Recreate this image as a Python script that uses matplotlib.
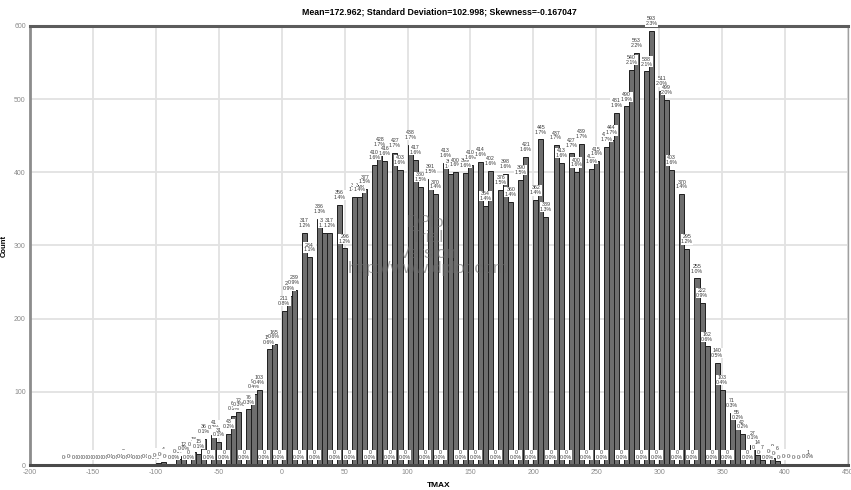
"""
Histogram of TMAX (DPlot style) with count / percent labels on every bin
"""

import matplotlib
matplotlib.use("Agg")
import matplotlib.pyplot as plt

# Histogram bins: first edge and width (TMAX units)
bin_start = -172
bin_width = 4

# Count per bin (empty bins are 0)
counts = [
    0, 1, 0, 0, 0, 0, 0, 0, 0, 1,
    0, 2, 0, 1, 0, 0, 1, 0, 3, 4,
    1, 0, 8, 12, 0, 18, 15, 36, 0, 41,
    31, 0, 43, 67, 72, 0, 76, 97, 103, 0,
    158, 165, 0, 211, 231, 239, 0, 317, 284, 0,
    336, 317, 317, 0, 356, 296, 0, 366, 366, 377,
    0, 410, 428, 416, 0, 427, 403, 0, 438, 417,
    380, 0, 391, 370, 0, 413, 398, 400, 0, 399,
    410, 0, 414, 354, 402, 0, 376, 398, 360, 0,
    390, 421, 0, 362, 445, 339, 0, 437, 413, 0,
    427, 400, 439, 0, 405, 415, 0, 435, 444, 481,
    0, 490, 540, 563, 0, 538, 593, 0, 511, 499,
    403, 0, 370, 295, 0, 255, 222, 162, 0, 140,
    103, 0, 71, 55, 42, 0, 27, 14, 7, 0,
    9, 6, 0, 2, 1, 0, 0, 1,
]

x_ticks = list(range(-200, 451, 50))
y_ticks = list(range(0, 601, 100))

title = "Mean=172.962; Standard Deviation=102.998; Skewness=-0.167047"
x_label = "TMAX"
y_label = "Count"
watermark = "DPlot\nTrial\nVersion\nhttp://www.dplot.com"

plt.rcParams["font.family"] = ["Liberation Sans", "DejaVu Sans"]
plt.rcParams["axes.unicode_minus"] = False

fig = plt.figure(figsize=(8.51, 4.90), dpi=100)
ax = fig.add_axes([30 / 851, 25 / 490, 818 / 851, 439 / 490])

lefts = [bin_start + i * bin_width for i in range(len(counts))]
total = sum(counts)

# Bars
ax.bar(lefts, counts, width=bin_width, align="edge",
       color="#6e6e6e", edgecolor="#1e1e1e", linewidth=0.7, zorder=2)

# Count and percent label above each bin
for left, c in zip(lefts, counts):
    pct = 100.0 * c / total
    ax.annotate(f"{c}\n{pct:.1f}%", xy=(left + bin_width / 2, c),
                xytext=(0, 3.5), textcoords="offset points",
                ha="center", va="bottom", fontsize=3.8, color="#3a3a3a",
                linespacing=0.95, zorder=4,
                bbox=dict(boxstyle="square,pad=0.05", facecolor="white",
                          edgecolor="none"))

# Watermark
ax.text(116, 300, watermark, ha="center", va="center", fontsize=12.5,
        color="#6a6a6a", alpha=0.6, linespacing=1.05, zorder=5)

ax.set_xlim(-200, 450)
ax.set_ylim(0, 600)
ax.set_xticks(x_ticks)
ax.set_yticks(y_ticks)
ax.tick_params(axis="both", length=0, labelsize=5, labelcolor="#8a8a8a", pad=3)
ax.grid(True, color="#e2e2e2", linewidth=1.3, zorder=0)
ax.set_axisbelow(True)

for side, col, lw in [("left", "#8c8c8c", 2.0), ("top", "#5c5c5c", 2.2),
                      ("bottom", "#4a4a4a", 2.2), ("right", "#a0a0a0", 1.0)]:
    ax.spines[side].set_color(col)
    ax.spines[side].set_linewidth(lw)

ax.set_xlabel(x_label, fontsize=6, fontweight="bold", labelpad=4)
ax.set_ylabel(y_label, fontsize=5.5, fontweight="bold")
ax.yaxis.set_label_coords(-22 / 818, 0.5)

fig.text(439 / 851, 1 - 12 / 490, title, ha="center", va="center",
         fontsize=6.3, fontweight="bold")

fig.savefig("out.png", dpi=100, facecolor="white")
plt.close(fig)
